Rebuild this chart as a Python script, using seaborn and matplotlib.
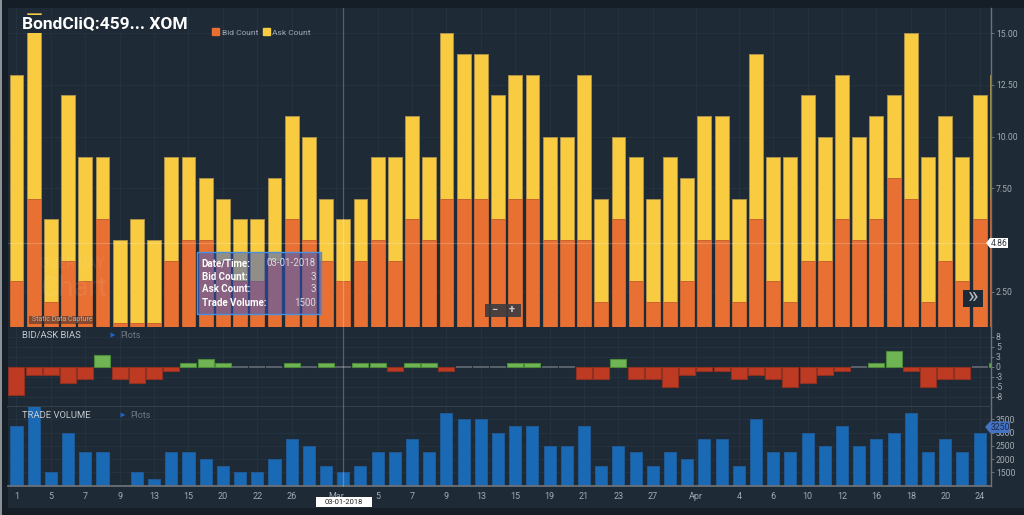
import matplotlib

matplotlib.use("Agg")
import matplotlib.pyplot as plt
import pandas as pd
import seaborn as sns
from matplotlib.patches import Patch, Polygon, Rectangle

# values
total_count = [13, 16, 6, 12, 9, 9, 5, 6, 5, 9, 9, 8, 7, 6, 6, 8, 11, 10, 7, 6,
               7, 9, 9, 11, 9, 15, 14, 14, 12, 13, 13, 10, 10, 13, 7, 10, 9, 7, 9, 8,
               11, 11, 7, 14, 9, 9, 12, 10, 13, 10, 11, 12, 15, 9, 11, 9, 12, 13]
bid_count = [3, 7, 2, 4, 3, 6, 1, 1, 1, 4, 5, 5, 4, 3, 3, 4, 6, 5, 4, 3,
             4, 5, 4, 6, 5, 7, 7, 7, 6, 7, 7, 5, 5, 5, 2, 6, 3, 2, 2, 3,
             5, 5, 2, 6, 3, 2, 4, 4, 6, 5, 6, 8, 7, 2, 4, 3, 6, 7]
bias = [-7, -2, -2, -4, -3, 3, -3, -4, -3, -1, 1, 2, 1, 0, 0, 0, 1, 0, 1, 0,
        1, 1, -1, 1, 1, -1, 0, 0, 0, 1, 1, 0, 0, -3, -3, 2, -3, -3, -5, -2,
        -1, -1, -3, -2, -3, -5, -4, -2, -1, 0, 1, 4, -1, -5, -3, -3, 0, 1]
trade_volume = [3250, 4000, 1500, 3000, 2250, 2250, 1000, 1500, 1250, 2250, 2250, 2000, 1750, 1500, 1500,
                2000, 2750, 2500, 1750, 1500, 1750, 2250, 2250, 2750, 2250, 3750, 3500, 3500, 3000, 3250,
                3250, 2500, 2500, 3250, 1750, 2500, 2250, 1750, 2250, 2000, 2750, 2750, 1750, 3500, 2250,
                2250, 3000, 2500, 3250, 2500, 2750, 3000, 3750, 2250, 2750, 2250, 3000, 3250]
x_tick_labels = ["1", "5", "7", "9", "13", "15", "20", "22", "26", "Mar", "5", "7", "9", "13", "15",
                 "19", "21", "23", "27", "Apr", "4", "6", "10", "12", "16", "18", "20", "24"]
x_tick_slots = [0, 2, 4, 6, 8, 10, 12, 14, 16, 18.6, 21, 23, 25, 27, 29,
                31, 33, 35, 37, 39.5, 42, 44, 46, 48, 50, 52, 54, 56]
count_ticks = [2.5, 5, 7.5, 10, 12.5, 15]
count_tick_labels = ["2.50", "", "7.50", "10.00", "12.50", "15.00"]  # 5.00 sits under the 4.86 tag
bias_ticks = [-7.5, -5, -2.5, 0, 2.5, 5, 7.5]
bias_tick_labels = ["-8", "-5", "-3", "0", "3", "5", "8"]
volume_ticks = [1500, 2000, 2500, 3000, 3500]
tooltip_rows = [("Date/Time:", "03-01-2018"), ("Bid Count:", "3"), ("Ask Count:", "3"), ("Trade Volume:", "1500")]

PANEL = "#1e2a36"
OUTER = "#151d27"
GRID = "#263340"
AXIS = "#6c747b"
TEXT = "#a4abb2"
ORANGE = "#e87033"
YELLOW = "#f8cb40"
BLUE = "#1a69b5"

sns.set_theme(style="dark")
plt.rcParams["font.family"] = ["Roboto", "DejaVu Sans"]

W, H = 1024, 515
fig = plt.figure(figsize=(W / 100, H / 100), dpi=100, facecolor=OUTER)


def add_pane(top, bottom):
    return fig.add_axes([8 / W, 1 - bottom / H, (991 - 8) / W, (bottom - top) / H], facecolor=PANEL)


ax_count = add_pane(8, 327.3)
ax_bias = add_pane(327.3, 406.7)
ax_vol = add_pane(406.7, 486.3)

slots = list(range(len(total_count)))
df = pd.DataFrame({"slot": slots, "total": total_count, "bid": bid_count, "bias": bias, "volume": trade_volume})
df["side"] = ["up" if b > 0 else "down" if b < 0 else "flat" for b in bias]

# stacked look: full height in yellow, bid part painted over it
sns.barplot(data=df, x="slot", y="total", color=YELLOW, saturation=1, width=0.81,
            edgecolor="#a8904a", linewidth=0.7, ax=ax_count)
sns.barplot(data=df, x="slot", y="bid", color=ORANGE, saturation=1, width=0.81,
            edgecolor="#c8642f", linewidth=0.7, ax=ax_count)
sns.barplot(data=df, x="slot", y="bias", hue="side", dodge=False, saturation=1, width=0.93, legend=False,
            palette={"up": "#70b553", "down": "#bf3a23", "flat": "#59616a"}, linewidth=0.8, ax=ax_bias)
for bar in ax_bias.patches:
    h = bar.get_height()
    bar.set_edgecolor("#4d8a3c" if h > 0 else "#8f3122" if h < 0 else "#59616a")
    if h == 0:
        bar.set_linewidth(1.4)
sns.barplot(data=df, x="slot", y="volume", color=BLUE, saturation=1, width=0.70,
            edgecolor="#1f5a96", linewidth=0.7, ax=ax_vol)

for ax in (ax_count, ax_bias, ax_vol):
    ax.set(xlabel="", ylabel="")
    ax.set_xlim(-0.494, 56.66)
    ax.set_xticks(x_tick_slots)
    ax.yaxis.tick_right()
    ax.grid(True, color=GRID, linewidth=0.6)
    ax.set_axisbelow(True)
    ax.tick_params(axis="x", length=0, labelbottom=False)
    ax.tick_params(axis="y", length=2, width=0.7, color=AXIS, labelcolor=TEXT, labelsize=6.2, pad=1.5)
    for side in ("top", "left", "bottom"):
        ax.spines[side].set_visible(False)
    ax.spines["right"].set_color(AXIS)
    ax.spines["right"].set_linewidth(1)

ax_count.set_ylim(0.78, 16.22)
ax_count.set_yticks(count_ticks, count_tick_labels)

ax_bias.set_ylim(-10, 9.85)
ax_bias.set_yticks(bias_ticks, bias_tick_labels)
ax_bias.spines["bottom"].set_visible(True)
ax_bias.spines["bottom"].set_color("#3a444e")
ax_bias.spines["bottom"].set_linewidth(1.2)

ax_vol.set_ylim(972, 3975)
ax_vol.set_yticks(volume_ticks, [str(t) for t in volume_ticks])
ax_vol.set_xticks(x_tick_slots, x_tick_labels)
ax_vol.tick_params(axis="x", length=3, width=0.7, color=AXIS, labelcolor=TEXT, labelsize=6.5, pad=0.8, labelbottom=True)
ax_vol.spines["bottom"].set_visible(True)
ax_vol.spines["bottom"].set_color(AXIS)

# everything chrome-like goes on an overlay measured in picture pixels
over = fig.add_axes([0, 0, 1, 1], facecolor="none")
over.set_xlim(0, W)
over.set_ylim(H, 0)
over.axis("off")


def box(x0, y0, x1, y1, **kws):
    over.add_patch(Rectangle((x0, y0), x1 - x0, y1 - y0, **kws))


fig.patches.append(Rectangle((0, 0), 1, 1, transform=fig.transFigure, color=OUTER, zorder=-3))
fig.patches.append(Rectangle((8 / W, 1 - 506.5 / H), 1, (506.5 - 8) / H, transform=fig.transFigure, color=PANEL, zorder=-2))
box(0, 0, 1.5, H, color="#8b9095", lw=0)

# crosshair
over.plot([8, 991], [243, 243], color="white", alpha=0.2, lw=0.9)
over.plot([343, 343], [8, 486], color="white", alpha=0.25, lw=0.9)

# title sits on a plate that hides the tall bar behind it
box(23, 15, 188, 33, color=PANEL, lw=0)
over.text(22.5, 23.5, "BondCliQ:459... XOM", color="white", fontsize=12.5, fontweight="bold", va="center")

handles = [Patch(color=ORANGE, label="Bid Count"), Patch(color=YELLOW, label="Ask Count")]
over.legend(handles=handles, loc="center", bbox_to_anchor=(261.5 / W, 1 - 32 / H), ncol=2, frameon=False,
            fontsize=6, labelcolor=TEXT, handlelength=0.85, handleheight=0.85, handletextpad=0.25,
            columnspacing=0.6, borderpad=0)

# pane captions
over.text(22.5, 335.5, "BID/ASK BIAS", color="#c4c9ce", fontsize=6.8, va="center")
over.add_patch(Polygon([(110.5, 332.5), (115.5, 335), (110.5, 337.5)], color="#1f63c4", lw=0))
over.text(120, 335, "Plots", color="#6f7880", fontsize=6.5, va="center")
over.text(22.5, 415.5, "TRADE VOLUME", color="#c4c9ce", fontsize=6.8, va="center")
over.add_patch(Polygon([(120.5, 412.5), (125.5, 415), (120.5, 417.5)], color="#1f63c4", lw=0))
over.text(130, 415, "Plots", color="#6f7880", fontsize=6.5, va="center")

# faded watermark and capture stamp
over.text(40, 264, "OVER DAY", color="white", alpha=0.07, fontsize=10, va="center")
over.text(40, 289, "Chart", color="white", alpha=0.07, fontsize=20, va="center")
box(29, 315.5, 95, 323.5, color="#3a2a28", alpha=0.55, lw=0)
over.text(32.5, 319.7, "Static Data Capture", color="#b9b2ac", fontsize=5, va="center")

# tooltip
box(196.5, 251.7, 321, 314, facecolor="#3156c8", alpha=0.52, lw=0)
box(196.5, 251.7, 321, 314, facecolor="none", edgecolor="#4a90e0", lw=1)
for row, (name, value) in enumerate(tooltip_rows):
    y = 263.5 + row * 13
    over.text(201.5, y, name, color="white", fontsize=7, fontweight="bold", va="center")
    over.text(316, y, value, color="#d8dade", fontsize=7, ha="right", va="center")

# zoom and scroll buttons
box(485, 304, 521, 317, color="#3b3b40", alpha=0.9, lw=0)
over.text(494, 310, "\u2212", color="#c8c8c8", fontsize=8, fontweight="bold", ha="center", va="center")
over.text(512, 310, "+", color="#c8c8c8", fontsize=8, fontweight="bold", ha="center", va="center")
box(963, 290, 983, 307, color="#1e2a36", lw=0)
over.text(973, 297.5, "\u00bb", color="#b8bec4", fontsize=16, ha="center", va="center")

# value tags
over.add_patch(Polygon([(986, 243), (990, 238), (1008, 238), (1008, 248), (990, 248)], color="white", lw=0))
over.text(999, 243, "4.86", color="#333a42", fontsize=6.2, ha="center", va="center")
over.add_patch(Polygon([(985, 427), (990, 421.5), (1010, 421.5), (1010, 433), (990, 433)], color="#4472c4", lw=0))
over.text(1000, 427, "3250", color="#1d2a45", fontsize=6.2, ha="center", va="center")

# date tag under the crosshair
box(316, 496.7, 372, 506.7, color="white", lw=0)
over.text(344, 501.7, "03-01-2018", color="#222222", fontsize=5.5, ha="center", va="center")

fig.savefig("out.png", dpi=100, facecolor=OUTER)
plt.close(fig)
